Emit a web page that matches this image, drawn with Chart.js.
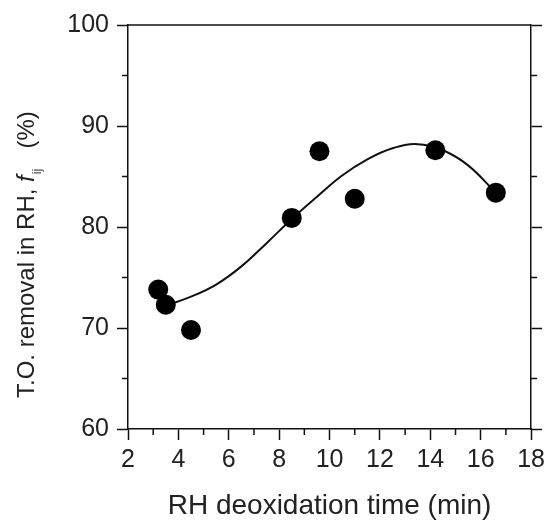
<!DOCTYPE html>
<html>
<head>
<meta charset="utf-8">
<script src="https://cdn.jsdelivr.net/npm/chart.js@4"></script>
<style>
  html, body { margin: 0; padding: 0; background: #fff; }
  #wrap { width: 550px; height: 520px; }
</style>
</head>
<body>
<div id="wrap"><canvas id="rhChart" width="550" height="520"></canvas></div>
<script>
// measured points (RH deoxidation time vs T.O. removal)
const timeMin = [3.2, 3.5, 4.5, 8.5, 9.6, 11.0, 14.2, 16.6];
const removalPct = [73.8, 72.3, 69.8, 80.9, 87.5, 82.8, 87.6, 83.4];

// fitted curve
const fitTime = [3.5, 4.5, 5.5, 6.5, 7.5, 8.5, 9.5, 10.5, 11.5, 12.5, 13.5, 14.5, 15.5, 16.6];
const fitPct = [72.2, 73.1, 74.3, 76.1, 78.4, 80.8, 83.0, 85.1, 86.7, 87.8, 88.2, 87.6, 86.1, 83.4];

const xTicks = [2, 4, 6, 8, 10, 12, 14, 16, 18];
const yTicks = [60, 70, 80, 90, 100];

const FONT = "'Liberation Sans', Arial, sans-serif";
const INK = "#111";
const TXT = "#222";

// minor ticks, top border and the y title (needs italic f + subscript)
const framePlugin = {
  id: "frame",
  afterDraw(chart) {
    const { ctx, chartArea: a, scales } = chart;
    ctx.save();
    ctx.strokeStyle = INK;
    ctx.lineWidth = 1.5;

    // top border
    ctx.beginPath();
    ctx.moveTo(a.left, a.top);
    ctx.lineTo(a.right, a.top);
    ctx.stroke();

    // minor ticks
    ctx.beginPath();
    for (let v = 3; v < 18; v += 2) {
      const px = scales.x.getPixelForValue(v);
      ctx.moveTo(px, a.bottom);
      ctx.lineTo(px, a.bottom + 6);
    }
    for (let v = 65; v < 100; v += 10) {
      const py = scales.y.getPixelForValue(v);
      ctx.moveTo(a.left, py);
      ctx.lineTo(a.left - 6, py);
      ctx.moveTo(a.right, py);
      ctx.lineTo(a.right + 6, py);
    }
    ctx.stroke();

    // y axis title
    ctx.translate(34, 398);
    ctx.rotate(-Math.PI / 2);
    ctx.fillStyle = TXT;
    ctx.textBaseline = "alphabetic";
    ctx.textAlign = "left";
    let x = 0;
    ctx.font = "24px " + FONT;
    const main = "T.O. removal in RH, ";
    ctx.fillText(main, x, 0);
    x += ctx.measureText(main).width;
    ctx.font = "italic 24px " + FONT;
    ctx.fillText("f", x, 0);
    x += ctx.measureText("f").width + 1;
    ctx.font = "13px " + FONT;
    ctx.fillStyle = "#555";
    ctx.fillText("ij", x, 7);
    x += ctx.measureText("ij").width + 20;
    ctx.font = "24px " + FONT;
    ctx.fillStyle = TXT;
    ctx.fillText("(%)", x, 0);
    ctx.restore();
  }
};

const ctx = document.getElementById("rhChart").getContext("2d");
new Chart(ctx, {
  type: "scatter",
  data: {
    datasets: [
      {
        label: "Measured",
        data: timeMin.map((t, i) => ({ x: t, y: removalPct[i] })),
        backgroundColor: "#000",
        borderColor: "#000",
        pointRadius: 10,
        pointHoverRadius: 10,
        borderWidth: 0
      },
      {
        label: "Fit",
        data: fitTime.map((t, i) => ({ x: t, y: fitPct[i] })),
        showLine: true,
        tension: 0.4,
        borderColor: INK,
        borderWidth: 2,
        pointRadius: 0,
        fill: false
      }
    ]
  },
  options: {
    responsive: false,
    animation: false,
    layout: { padding: { top: 25, left: 0, right: 0, bottom: 0 } },
    plugins: {
      legend: { display: false },
      tooltip: { enabled: false }
    },
    scales: {
      x: {
        type: "linear",
        min: 2,
        max: 18,
        afterBuildTicks: s => { s.ticks = xTicks.map(v => ({ value: v })); },
        afterFit: s => { s.height = 91; },
        border: { display: true, color: INK, width: 1.5 },
        grid: { drawOnChartArea: false, drawTicks: true, tickLength: 11, tickColor: INK, tickWidth: 1.5 },
        ticks: { color: TXT, font: { family: FONT, size: 25 }, padding: 5, maxRotation: 0 },
        title: {
          display: true,
          text: "RH deoxidation time (min)",
          color: TXT,
          font: { family: FONT, size: 28, lineHeight: 1 },
          padding: { top: 0, bottom: 0 }
        }
      },
      y: {
        type: "linear",
        position: "left",
        min: 60,
        max: 100,
        afterBuildTicks: s => { s.ticks = yTicks.map(v => ({ value: v })); },
        afterFit: s => { s.width = 128; },
        border: { display: true, color: INK, width: 1.5 },
        grid: { drawOnChartArea: false, drawTicks: true, tickLength: 11, tickColor: INK, tickWidth: 1.5 },
        ticks: { color: TXT, font: { family: FONT, size: 25 }, padding: 8 }
      },
      y2: {
        type: "linear",
        position: "right",
        min: 60,
        max: 100,
        afterBuildTicks: s => { s.ticks = yTicks.map(v => ({ value: v })); },
        afterFit: s => { s.width = 17; },
        border: { display: true, color: INK, width: 1.5 },
        grid: { drawOnChartArea: false, drawTicks: true, tickLength: 11, tickColor: INK, tickWidth: 1.5 },
        ticks: { display: false }
      }
    }
  },
  plugins: [framePlugin]
});
</script>
</body>
</html>
